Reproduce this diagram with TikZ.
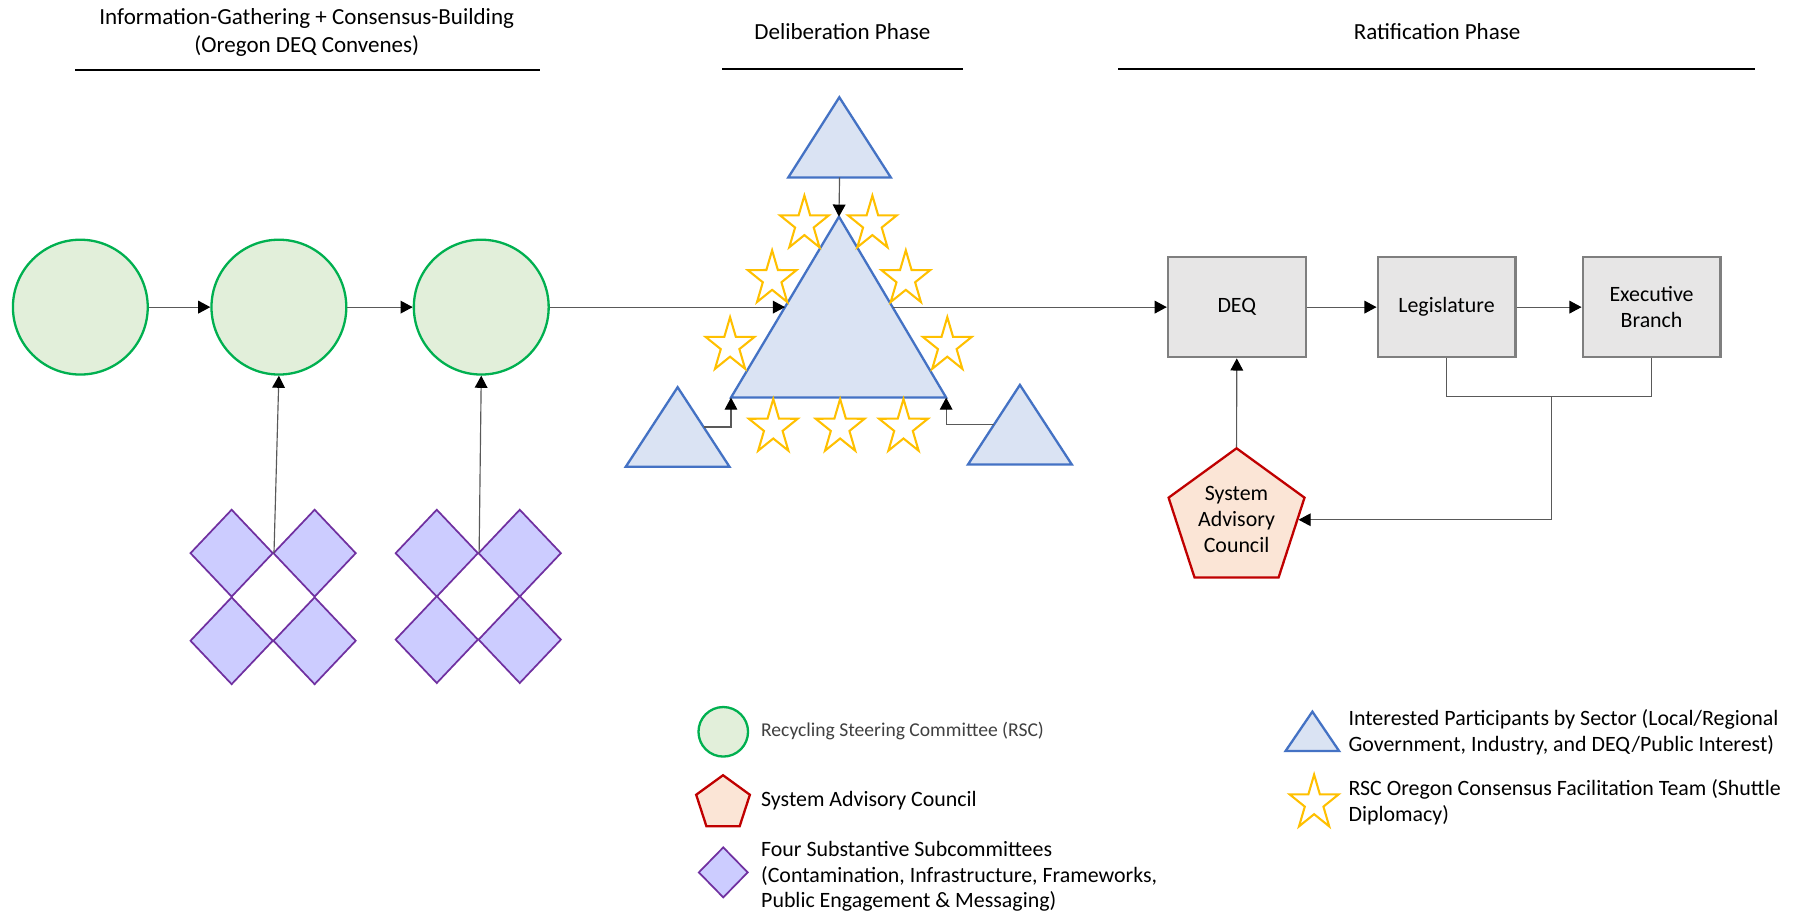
\documentclass[tikz,border=0pt]{standalone}
\usepackage{fontspec}
\setmainfont{Carlito}
\usetikzlibrary{shapes.geometric,arrows.meta,calc}
\definecolor{rscfill}{HTML}{E2EFDA}
\definecolor{rscline}{HTML}{00B050}
\definecolor{trifill}{HTML}{DAE3F3}
\definecolor{triline}{HTML}{4472C4}
\definecolor{starline}{HTML}{FFC000}
\definecolor{dmdfill}{HTML}{CCCCFF}
\definecolor{dmdline}{HTML}{7030A0}
\definecolor{sacfill}{HTML}{FBE5D6}
\definecolor{sacline}{HTML}{C00000}
\definecolor{boxfill}{HTML}{E7E6E6}
\definecolor{boxline}{HTML}{7F7F7F}
\definecolor{connclr}{HTML}{595959}
\tikzset{
 rsc/.style={circle, draw=rscline, fill=rscfill, line width=2pt, minimum size=117pt, inner sep=0pt},
 legrscstyle/.style={circle, draw=rscline, fill=rscfill, line width=2pt, minimum size=43pt, inner sep=0pt},
 sub/.style={diamond, draw=dmdline, fill=dmdfill, line width=1.5pt, minimum width=72pt, minimum height=76pt, inner sep=0pt},
 legsubstyle/.style={diamond, draw=dmdline, fill=dmdfill, line width=1.5pt, minimum width=43pt, minimum height=44pt, inner sep=0pt},
 tri/.style={draw=triline, fill=trifill, line width=2pt},
 box/.style={rectangle, draw=boxline, fill=boxfill, line width=2pt, minimum width=119.5pt, minimum height=87pt, inner sep=2pt, align=center, font=\fontsize{19}{22.5}\selectfont},
 sac/.style={regular polygon, regular polygon sides=5, draw=sacline, fill=sacfill, line width=2pt, minimum size=124pt, inner sep=0pt, align=center, font=\fontsize{19}{22.5}\selectfont},
 legsacstyle/.style={regular polygon, regular polygon sides=5, draw=sacline, fill=sacfill, line width=2pt, minimum size=49pt, inner sep=0pt},
 conn/.style={draw=connclr, line width=1pt, -{Triangle[length=10.5pt,width=11pt,color=black]}},
 plain/.style={draw=connclr, line width=1pt},
 rule/.style={draw=black, line width=2pt},
 head/.style={font=\fontsize{20}{24.6}\selectfont, align=center, inner sep=0pt},
 legtext/.style={font=\fontsize{19}{22}\selectfont, align=left, anchor=west, inner sep=0pt},
 pics/ystar/.style={code={
   \draw[draw=starline, line width=1.8pt]
   (-90:22.3 and 24.8) -- (-54:8.5 and 9.5) -- (-18:22.3 and 24.8) -- (18:8.5 and 9.5) --
   (54:22.3 and 24.8) -- (90:8.5 and 9.5) -- (126:22.3 and 24.8) -- (162:8.5 and 9.5) --
   (198:22.3 and 24.8) -- (234:8.5 and 9.5) -- cycle;
 }}
}
\begin{document}
\begin{tikzpicture}[x=1pt,y=-1pt]
\useasboundingbox (0,0) rectangle (1568,795);
\fill[white] (0,0) rectangle (1568,795);

% headings
\node[head] (h1) at (266.2,28.2) {Information-Gathering + Consensus-Building\\(Oregon DEQ Convenes)};
\node[head] (h2) at (731,27) {Deliberation Phase};
\node[head] (h3) at (1247,27) {Ratification Phase};
\draw[rule] (65.4,60.7) -- (468.2,60.7);
\draw[rule] (626.5,60) -- (835.6,60);
\draw[rule] (970.5,60) -- (1523,60);

% RSC circles
\node[rsc] (c1) at (69.7,266.5) {};
\node[rsc] (c2) at (242,266.5) {};
\node[rsc] (c3) at (417.6,266.5) {};
\draw[conn] (c1) -- (c2);
\draw[conn] (c2) -- (c3);

% subcommittee diamonds
\node[sub] (d1a) at (201,480) {};
\node[sub] (d1b) at (273,480) {};
\node[sub] (d1c) at (201,556) {};
\node[sub] (d1d) at (273,556) {};
\node[sub] (d2a) at (379,480) {};
\node[sub] (d2b) at (451,480) {};
\node[sub] (d2c) at (379,555) {};
\node[sub] (d2d) at (451,555) {};
\draw[conn] (d1a.east) -- (c2.south);
\draw[conn] (d2a.east) -- (c3.south);

% triangles
\coordinate (tA) at (728.3,84.4); \coordinate (tL) at (684,154); \coordinate (tR) at (773,154);
\coordinate (bA) at (728,188); \coordinate (bL) at (634.3,345); \coordinate (bR) at (821,345);
\coordinate (lA) at (588,336); \coordinate (lL) at (543,405); \coordinate (lR) at (633,405);
\coordinate (rA) at (885,334); \coordinate (rL) at (840,403); \coordinate (rR) at (930,403);
\draw[tri] (tA) -- (tL) -- (tR) -- cycle;
\draw[tri] (bA) -- (bL) -- (bR) -- cycle;
\draw[tri] (lA) -- (lL) -- (lR) -- cycle;
\draw[tri] (rA) -- (rL) -- (rR) -- cycle;
\coordinate (tBase) at ($(tL)!0.5!(tR)$);
\coordinate (bigL) at ($(bA)!0.5!(bL)$);
\coordinate (bigR) at ($(bA)!0.5!(bR)$);
\coordinate (lOut) at ($(lA)!0.5!(lR)$);
\coordinate (rOut) at ($(rA)!0.5!(rL)$);
\draw[conn] (tBase) -- (bA);
\draw[conn] (lOut) -| (bL);
\draw[conn] (rOut) -| (bR);
\draw[conn] (c3.east) -- (bigL);

% stars
\pic at (698,194.5) {ystar};
\pic at (757,194.5) {ystar};
\pic at (670,242) {ystar};
\pic at (786,242) {ystar};
\pic at (633.5,300) {ystar};
\pic at (822,300) {ystar};
\pic at (671,371) {ystar};
\pic at (729,371) {ystar};
\pic at (784,371) {ystar};

% ratification boxes
\node[box] (deq) at (1073.2,266.5) {DEQ};
\node[box] (leg) at (1255.2,266.5) {Legislature};
\node[box] (exec) at (1433.1,266.5) {Executive\\Branch};
\node[sac] (sac) at (1073,451) {System\\Advisory\\Council};
\draw[conn] (bigR) -- (deq.west);
\draw[conn] (deq.east) -- (leg.west);
\draw[conn] (leg.east) -- (exec.west);
\draw[conn] (sac.north) -- (deq.south);
\coordinate (fbj) at (1346,344.2);
\draw[plain] (leg.south) |- (fbj) -| (exec.south);
\draw[conn] (fbj) |- (sac.east);

% legend
\node[legrscstyle] (legrsc) at (627.6,635) {};
\node[legtext, text=black!75] (legrsct) at (660.3,634) {\fontsize{17}{20}\selectfont Recycling Steering Committee (RSC)};
\node[legsacstyle] (legsac) at (627.4,697.2) {};
\node[legtext] (legsact) at (660.3,695) {System Advisory Council};
\node[legsubstyle] (legsub) at (627.6,757) {};
\node[legtext] (legsubt) at (660.3,760.5) {Four Substantive Subcommittees\\(Contamination, Infrastructure, Frameworks,\\Public Engagement \& Messaging)};
\draw[tri] (1138.8,617.5) -- (1115.5,651.7) -- (1162,651.7) -- cycle;
\node[legtext] (legtrit) at (1170,635.3) {Interested Participants by Sector (Local/Regional\\Government, Industry, and DEQ/Public Interest)};
\pic at (1140.3,697) {ystar};
\node[legtext] (legstart) at (1170,696) {RSC Oregon Consensus Facilitation Team (Shuttle\\Diplomacy)};
\end{tikzpicture}
\end{document}
